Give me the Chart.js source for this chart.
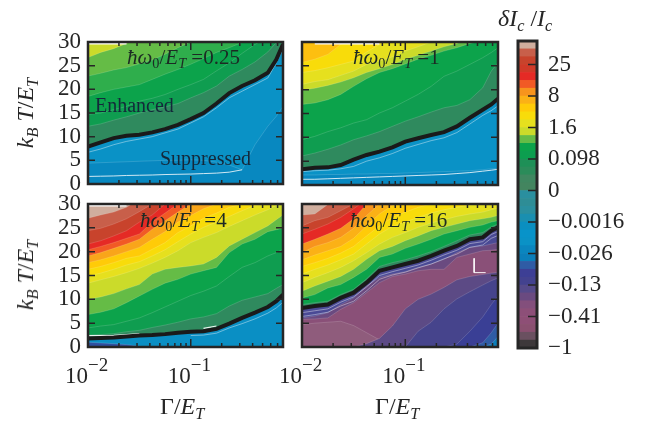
<!DOCTYPE html>
<html>
<head>
<meta charset="utf-8">
<script src="https://cdn.jsdelivr.net/npm/chart.js@4"></script>
<style>
    html, body { margin: 0; padding: 0; background: #fff; width: 645px; height: 424px; overflow: hidden; }
    canvas { position: absolute; }
    .txt { position: absolute; font-family: "Liberation Serif", serif; color: #262626; white-space: nowrap; line-height: 1; }
    .txt i { font-style: italic; }
    .txt sub { font-size: 68%; vertical-align: -0.28em; line-height: 0; }
    .panelLabel { font-size: 21px; color: #1c2a24; }
    .note { font-size: 20px; color: #14283a; }
    .axisTitle { font-size: 24px; }
    .rot { transform: translate(-50%, -50%) rotate(-90deg); }
</style>
</head>
<body>
<canvas id="panel1" style="left:40px;top:28px" width="251" height="206"></canvas>
<canvas id="panel2" style="left:254px;top:28px" width="252" height="207"></canvas>
<canvas id="panel3" style="left:40px;top:190px" width="251" height="207"></canvas>
<canvas id="panel4" style="left:254px;top:190px" width="252" height="207"></canvas>
<canvas id="colorbar" style="left:510px;top:25px" width="135" height="345"></canvas>

<div class="txt panelLabel" style="left:127px;top:47px"><i>ħω</i><sub>0</sub>/<i>E<sub>T</sub></i> =0.25</div>
<div class="txt panelLabel" style="left:353px;top:47px"><i>ħω</i><sub>0</sub>/<i>E<sub>T</sub></i> =1</div>
<div class="txt panelLabel" style="left:140px;top:210px"><i>ħω</i><sub>0</sub>/<i>E<sub>T</sub></i> =4</div>
<div class="txt panelLabel" style="left:350px;top:210px"><i>ħω</i><sub>0</sub>/<i>E<sub>T</sub></i> =16</div>
<div class="txt note" style="left:95px;top:95px">Enhanced</div>
<div class="txt note" style="left:160px;top:148px">Suppressed</div>
<div class="txt axisTitle rot" style="left:25px;top:113px"><i>k<sub>B</sub> T</i>/<i>E<sub>T</sub></i></div>
<div class="txt axisTitle rot" style="left:25px;top:275px"><i>k<sub>B</sub> T</i>/<i>E<sub>T</sub></i></div>
<div class="txt axisTitle" style="left:160px;top:394px">Γ/<i>E<sub>T</sub></i></div>
<div class="txt axisTitle" style="left:375px;top:394px">Γ/<i>E<sub>T</sub></i></div>
<div class="txt axisTitle" style="left:498px;top:6px"><i>δI<sub>c</sub></i> /<i>I<sub>c</sub></i></div>

<script>
// shared x positions of all contour curves (Gamma/E_T)
const gamma = [0.01, 0.0133, 0.0178, 0.0237, 0.0316, 0.0422, 0.0562, 0.075, 0.1, 0.133, 0.178, 0.237, 0.316, 0.422, 0.562, 0.68, 0.79];
const gammaTicks = [0.01, 0.02, 0.03, 0.04, 0.05, 0.06, 0.07, 0.08, 0.09, 0.1, 0.2, 0.3, 0.4, 0.5, 0.6, 0.7];
const gammaExponents = { 0.01: '\u22122', 0.1: '\u22121' };
const temperatureTicks = [0, 5, 10, 15, 20, 25, 30];
const ceiling = [40, 40, 40, 40, 40, 40, 40, 40, 40, 40, 40, 40, 40, 40, 40, 40, 40];

// panel 1, hw0/ET = 0.25
const p1Lime = [26.7, 27.8, 28.6, 29.7, 31, 32, 33, 34, 35, 36, 37, 38, 39, 40, 41, 42, 43];
const p1Light = [22.8, 23.4, 24.1, 24.6, 25.4, 26.2, 27.4, 28.8, 30, 31, 32, 33, 34, 35, 36, 37, 38];
const p1Mid = [18.5, 19.3, 20, 20.5, 21, 22.1, 23.2, 24.2, 25.3, 26.5, 27.8, 28.8, 29.9, 31, 32, 33, 34];
const p1Green = [14.7, 15, 15.7, 16.4, 17.5, 18.1, 18.9, 20, 21, 22.1, 23.9, 25.6, 27.6, 29.5, 30.9, 32, 32.7];
const p1Dark = [12.2, 12.7, 13.5, 14.2, 15, 15.7, 16.3, 17, 18.2, 19.3, 20.7, 22.8, 24.2, 25.8, 27.9, 29.9, 30.9];
const p1Black = [7.9, 8.8, 9.7, 10.2, 10.4, 10.9, 11.6, 12.5, 13.7, 15, 17, 19.2, 20.7, 21.9, 23.5, 26.3, 29.5];
const p1Low = [4.4, 4.5, 4.6, 4.7, 4.8, 4.9, 5, 5, 5.1, 5, 4.6, 4, 3, 8.3, 12.2, 14.3, 16.4];
const p1Fan = [6.7, 7.4, 8.3, 9, 9.5, 10, 10.8, 11.6, 12.9, 14.2, 16.1, 18.2, 19.6, 21, 22.4, 25.6, 28.5];
const p1Base = [1.6, 1.65, 1.7, 1.8, 1.85, 1.9, 2, 2.05, 2.1, 2.2, 2.3, 2.5, 3, null, null, null, null];
const p1Gap = [29.7, 29.7, 29.7, 29.7, null, null, null, null, null, null, null, null, null, null, null, null, null];

// panel 2, hw0/ET = 1
const p2Orange = [25.7, 26.4, 27.4, 29.5, 31, 32, 33, 34, 35, 36, 37, 38, 39, 40, 41, 42, 43];
const p2Yellow = [23.6, 24, 24.6, 25.3, 26, 27.9, 29.5, 31, 32, 33, 34, 35, 36, 37, 38, 39, 40];
const p2Lemon = [21.1, 21.7, 22.1, 23, 23.9, 25.3, 26, 26.9, 28.1, 29, 30, 31, 32, 33, 34, 35, 36];
const p2Lime = [19.9, 20.3, 20.9, 21.6, 22.5, 23.6, 24.4, 25.3, 26.4, 27.2, 28.1, 29, 29.7, 30.6, 31.5, 32, 33];
const p2Light = [16.9, 17.2, 17.9, 19, 20.7, 22.3, 23.6, 24.4, 25.4, 26.4, 27.2, 28.1, 28.8, 29.7, 30.2, 31.5, 32];
const p2Green = [9.5, 10.2, 11.2, 12, 13, 13.7, 15.1, 16.2, 17.6, 19, 20.7, 22.8, 23.9, 25.3, 26.7, 27.8, 28.8];
const p2Dark = [6.1, 6.7, 7.5, 8.4, 9.5, 10.3, 11.2, 12.3, 13.4, 14.3, 15.3, 16.2, 16.7, 17.9, 20.4, 23.9, 25.7];
const p2Black = [3.3, 3.6, 3.7, 4.2, 5.3, 6.3, 7, 7.9, 9.1, 9.8, 10.5, 11.1, 12.3, 14.1, 15.8, 16.9, 18.1];
const p2Low = [2.1, 2.1, 2.2, 2.2, 2.3, 2.3, 2.4, 2.4, 2.5, 2.6, 2.7, 2.8, 2.9, 3, 3.2, 3.4, 3.5];
const p2Fan = [2.8, 3, 3.1, 3.4, 3.9, 5, 5.7, 6.6, 7.7, 8.5, 9.3, 9.9, 11, 12.8, 14.6, 15.6, 16.6];
const p2Base = [1.2, 1.2, 1.3, 1.4, 1.5, 1.6, 1.7, 1.8, 1.9, 2, 2.1, 2.2, 2.4, 2.6, 2.9, 3.1, 3.3];
const p2Gap = [null, 29.7, 29.7, 29.7, 29.7, 29.7, 29.7, null, null, null, null, null, null, null, null, null, null];

// panel 3, hw0/ET = 4
const p3Pink = [27, 27.7, 28.3, 29.3, 31, 32, 33, 34, 35, 36, 37, 38, 39, 40, 41, 42, 43];
const p3Brick = [24.4, 24.9, 25.8, 26.9, 28.4, 30, 31, 32, 33, 34, 35, 36, 37, 38, 39, 40, 41];
const p3Rust = [21.6, 22.3, 23.3, 24.4, 26.2, 27.7, 30, 31, 32, 33, 34, 35, 36, 37, 38, 39, 40];
const p3Red = [20.4, 21.1, 21.9, 22.8, 23.7, 26.2, 28.1, 30, 31, 32, 33, 34, 35, 36, 37, 38, 39];
const p3Orange = [19.1, 19.8, 20.7, 21.6, 22.6, 24.7, 26.5, 28.3, 30, 31, 32, 33, 34, 35, 36, 37, 38];
const p3Amber = [17.7, 18.3, 19.1, 20, 20.9, 22.6, 24.2, 26.2, 27.6, 29, 30, 31, 32, 33, 34, 35, 36];
const p3Gold = [16.3, 16.9, 17.7, 18.6, 19.1, 20.5, 21.9, 24, 25.4, 27, 28.1, 29.3, 30, 31, 32, 33, 34];
const p3Yellow = [14.9, 15.5, 16.3, 17.2, 17.9, 19.1, 20.4, 22.1, 23.7, 25.1, 26.2, 27.4, 28.6, 29.7, 30, 31, 32];
const p3Lemon = [13.4, 14.1, 14.8, 15.6, 16.5, 17.6, 18.8, 20.2, 21.9, 23, 24, 25.3, 26.5, 27.7, 28.8, 29.7, 30];
const p3Lime = [10, 10.5, 11.2, 12.2, 13.1, 15.3, 16.3, 16.7, 17, 17.4, 18.8, 21.2, 22.6, 24, 25.4, 26.7, 27.7];
const p3Light = [6.8, 7.3, 8, 9.3, 10.7, 12.1, 13.4, 14.2, 15.3, 16, 16.7, 19.8, 21.6, 22.6, 24.2, 24.6, 24.9];
const p3Green = [4, 4.4, 4.7, 5.4, 6.1, 7.2, 8.4, 9.6, 10.8, 11.7, 12.8, 14.8, 16.7, 17.7, 19.1, 19.8, 20.5];
const p3Dark = [2.5, 2.6, 2.8, 3.2, 3.5, 4.1, 4.6, 5.2, 5.9, 6.3, 7, 8.6, 9.8, 10.5, 11.2, 12.3, 13.1];
const p3Black = [1.76, 1.9, 2, 2.2, 2.4, 2.5, 2.7, 3, 3.2, 3.3, 3.8, 4.9, 6.1, 7.2, 8.4, 9.6, 11];
const p3Indigo = [1, 0.85, 0.7, 0.5, 0.15, 0, 0, 0, 0, 0, 0, 0, 0, 0, 0, 0, 0];
const p3Fan = [null, null, null, null, null, null, null, null, 2.4, 2.5, 2.9, 4, 4.9, 5.9, 7.1, 8.2, 9.4];
const p3Base = [2.4, 2.4, 2.45, 2.6, 2.8, null, null, null, null, 3.9, 4.4, null, null, null, null, null, null];
const p3Gap = [29.7, 29.7, 29.7, 29.7, null, null, null, null, null, null, null, null, null, null, null, null, null];

// panel 4, hw0/ET = 16
const p4Pink = [27.7, 27.9, 29.9, 31, 32, 33, 34, 35, 36, 37, 38, 39, 40, 41, 42, 43, 44];
const p4Brick = [25.4, 26.5, 27.2, 28.6, 30, 31, 32, 33, 34, 35, 36, 37, 38, 39, 40, 41, 42];
const p4Rust = [23.7, 24.7, 25.8, 27.2, 29, 31, 32, 33, 34, 35, 36, 37, 38, 39, 40, 41, 42];
const p4Red = [21.6, 22.6, 23.7, 24.9, 26.9, 30, 31, 32, 33, 34, 35, 36, 37, 38, 39, 40, 41];
const p4Orange = [19.8, 21.1, 21.9, 23, 24.9, 27.6, 30, 31, 32, 33, 34, 35, 36, 37, 38, 39, 40];
const p4Amber = [18.3, 19.3, 20.2, 21.1, 22.8, 25.4, 27.9, 29.7, 30, 31, 32, 33, 34, 35, 36, 37, 38];
const p4Gold = [16.9, 17.7, 18.6, 19.7, 21.1, 23.3, 25.4, 27.2, 28.3, 29.3, 30, 31, 32, 33, 34, 35, 36];
const p4Yellow = [15.3, 16.3, 17.2, 18.3, 19.5, 21.6, 23.7, 25.3, 26.2, 27.2, 28.1, 28.8, 29.3, 29.8, 30.2, 31, 32];
const p4Lemon = [13.5, 14.6, 15.6, 16.7, 18.1, 19.8, 21.6, 23, 24, 25.1, 26, 26.7, 27.4, 27.9, 28.3, 28.8, 29.1];
const p4Lime = [11.7, 12.8, 13.8, 14.8, 16.3, 18.4, 20.2, 21.1, 22.3, 23.3, 24.4, 25.1, 25.8, 26.5, 26.9, 27.2, 27.6];
const p4Light = [10.3, 11, 12.4, 13.1, 14.6, 16.3, 18.8, 19.5, 20.7, 21.6, 22.6, 23.7, 24.4, 25.1, 25.6, 26.2, 26.5];
const p4Dark = [8.9, 9.3, 9.6, 11, 12.1, 14.3, 16.9, 17.7, 18.3, 19.1, 20, 21.1, 22.3, 23.5, 24, 25.2, 25.8];
const p4Black = [8.2, 8.6, 8.9, 10.3, 11.4, 13.5, 16, 16.7, 17.4, 18.1, 19.1, 20.2, 21.2, 22.6, 23, 24.4, 25.1];
const p4Fade = [6.1, 6.5, 7.2, 8.9, 10.3, 12.8, 14.6, 15.3, 15.8, 16.7, 17.4, 18.4, 19.8, 20.9, 21.2, 21.6, 21.9];
const p4Plum = [5.8, 5.9, 6.1, 7.9, 9.3, 11.4, 13.5, 14.8, 15.3, 16, 16.3, 16.3, 18.8, 19.5, 20.2, 20.3, 20.5];
const p4Pale = [4.7, 5, 5.2, 5.4, 4.5, 3, 1.5, 0, 0, 0, 0, 0, 0, 0, 0, 0, 0];
const p4Mauve = [0, 0, 0, 0, 0, 0.7, 1.8, 4.4, 8, 10, 11.1, 12.5, 14.1, 14.8, 15.2, 15.5, 15.7];
const p4Purple = [0, 0, 0, 0, 0, 0, 0, 0, 0, 3.3, 5.2, 8, 10.1, 11.6, 13, 13.9, 14.5];
const p4Indigo = [0, 0, 0, 0, 0, 0, 0, 0, 0, 0, 0, 0, 0.6, 3.3, 6.3, 8.9, 10.7];
const p4Blue = [0, 0, 0, 0, 0, 0, 0, 0, 0, 0, 0, 0, 0, 0, 0.9, 3, 5];
const p4Cyan = [0, 0, 0, 0, 0, 0, 0, 0, 0, 0, 0, 0, 0, 0, 0, 0.6, 2.2];
const p4Fan1 = [7.2, 7.6, 8, 9.4, 10.5, 12.6, 15, 15.8, 16.5, 17.2, 18.2, 19.3, 20.3, 21.7, 22.1, 23.6, 24.2];
const p4Fan2 = [6.4, 6.8, 7.3, 8.6, 9.6, 11.8, 14.2, 15.1, 15.7, 16.6, 17.4, 18.5, 19.5, 20.9, 21.4, 22.8, 23.4];
const p4MarkX = [0.464, 0.464, 0.6];
const p4MarkY = [18.6, 15.6, 15.6];

// colorbar, one color per band from the bottom up
const barColors = ['#3d383a', '#6a5060', '#8a5070', '#8e4f76', '#8d4f78', '#834f7c', '#6a4a80', '#554a8a', '#43428f', '#3d3f95',
    '#2f5ca5', '#0b7fba', '#0a86bf', '#0a92c6', '#0893c9', '#0a8fc0', '#1a8fb0', '#2a8f9f', '#2e8d96', '#2a8f9f',
    '#43855f', '#3f8760', '#2b8c5a', '#1e9057', '#0c9e4f', '#0ca34b', '#65bc46', '#cbdb2a', '#e6e01e', '#f8dc0a',
    '#ffcb08', '#fbb116', '#f7941d', '#f15a25', '#e52a25', '#d03a28', '#c8432c', '#c85f4a', '#d0ae9e'];
const barTickValues = [0, 4, 8, 12, 16, 20, 24, 28, 32, 36];
const barTickLabels = ['\u22121', '\u22120.41', '\u22120.13', '\u22120.026', '\u22120.0016', '0', '0.098', '1.6', '8', '25'];

const inkColor = '#262626';
const fontFamily = '"Liberation Serif", serif';
const tickFont = { family: fontFamily, size: 23 };

// frame, inward ticks on all four sides, and the 10^n labels (canvas has no superscript)
const framePlugin = {
    id: 'frame',
    afterDatasetsDraw(chart, args, opts) {
        let ctx = chart.ctx;
        let a = chart.chartArea;
        ctx.save();
        ctx.strokeStyle = inkColor;
        ctx.lineWidth = 1.5;
        ctx.beginPath();
        gammaTicks.forEach(v => {
            let px = chart.scales.x.getPixelForValue(v);
            let len = gammaExponents[v] ? 8 : 4;
            ctx.moveTo(px, a.top); ctx.lineTo(px, a.top + len);
            ctx.moveTo(px, a.bottom); ctx.lineTo(px, a.bottom - len);
        });
        temperatureTicks.forEach(v => {
            let py = chart.scales.y.getPixelForValue(v);
            ctx.moveTo(a.left, py); ctx.lineTo(a.left + 7, py);
            ctx.moveTo(a.right, py); ctx.lineTo(a.right - 7, py);
        });
        ctx.stroke();
        ctx.lineWidth = 2.5;
        ctx.strokeRect(a.left, a.top, a.right - a.left, a.bottom - a.top);

        if (opts.showX) {
            ctx.fillStyle = inkColor;
            ctx.textBaseline = 'alphabetic';
            Object.keys(gammaExponents).forEach(v => {
                let px = chart.scales.x.getPixelForValue(Number(v));
                ctx.font = '23px ' + fontFamily;
                ctx.textAlign = 'right';
                ctx.fillText('10', px, a.bottom + 36);
                ctx.font = '19px ' + fontFamily;
                ctx.textAlign = 'left';
                ctx.fillText(gammaExponents[v], px, a.bottom + 24);
            });
        }
        ctx.restore();
    }
};

const barFramePlugin = {
    id: 'barFrame',
    afterDatasetsDraw(chart) {
        let ctx = chart.ctx;
        let a = chart.chartArea;
        ctx.save();
        ctx.strokeStyle = inkColor;
        ctx.lineWidth = 1.5;
        ctx.beginPath();
        barTickValues.forEach(v => {
            let py = chart.scales.y.getPixelForValue(v);
            ctx.moveTo(a.right, py); ctx.lineTo(a.right - 9, py);
        });
        ctx.stroke();
        ctx.lineWidth = 3;
        ctx.strokeRect(a.left, a.top, a.right - a.left, a.bottom - a.top);
        ctx.restore();
    }
};

function bandDataset(values, color) {
    return {
        data: values,
        fill: 'start',
        backgroundColor: color,
        borderColor: 'rgba(255,255,255,0.25)',
        borderWidth: 0.6,
        pointRadius: 0,
        tension: 0
    };
}

function lineDataset(values, color, width) {
    return {
        data: values,
        fill: false,
        borderColor: color,
        borderWidth: width,
        pointRadius: 0,
        tension: 0,
        spanGaps: false
    };
}

function buildPanel(id, bands, lines, showY, showX) {
    let datasets = lines.slice();
    // the first dataset is drawn last, so the lowest band goes first
    bands.slice().reverse().forEach(b => datasets.push(bandDataset(b[0], b[1])));

    new Chart(document.getElementById(id), {
        type: 'line',
        data: { labels: gamma, datasets: datasets },
        options: {
            responsive: false,
            animation: false,
            layout: { padding: { top: 14, right: 8 } },
            plugins: { legend: { display: false }, tooltip: { enabled: false }, frame: { showX: showX } },
            scales: {
                x: {
                    type: 'logarithmic',
                    min: 0.01,
                    max: 0.79,
                    grid: { display: false, drawTicks: false },
                    border: { display: false },
                    afterBuildTicks: axis => { axis.ticks = gammaTicks.map(v => ({ value: v })); },
                    afterFit: axis => {
                        axis.height = 50;
                        axis.paddingLeft = 0;
                        axis.paddingRight = 0;
                    },
                    ticks: { display: false }
                },
                y: {
                    min: 0,
                    max: 30,
                    grid: { display: false, drawTicks: false },
                    border: { display: false },
                    afterBuildTicks: axis => { axis.ticks = temperatureTicks.map(v => ({ value: v })); },
                    afterFit: axis => {
                        axis.width = 48;
                        axis.paddingTop = 0;
                        axis.paddingBottom = 0;
                    },
                    ticks: {
                        autoSkip: false,
                        padding: 7,
                        color: showY ? inkColor : 'rgba(0,0,0,0)',
                        font: tickFont
                    }
                }
            }
        },
        plugins: [framePlugin]
    });
}

function withX(xs, ys) {
    return xs.map((x, i) => ({ x: x, y: ys[i] }));
}

document.addEventListener('DOMContentLoaded', () => {
    let white = 'rgba(255,255,255,0.5)';
    let black = '#1a1a1a';
    let gapWhite = '#ffffff';

    buildPanel('panel1', [
        [ceiling, '#cbdb2a'], [p1Lime, '#65bc46'], [p1Light, '#2fae4c'], [p1Mid, '#0ca34b'],
        [p1Green, '#0f9d50'], [p1Dark, '#2f8a5e'], [p1Black, '#0a92c6'], [p1Low, '#0888c0']
    ], [
        lineDataset(p1Black, black, 4),
        lineDataset(p1Fan, white, 0.8),
        lineDataset(p1Base, 'rgba(255,255,255,0.8)', 1),
        lineDataset(p1Gap, gapWhite, 2)
    ], true, false);

    buildPanel('panel2', [
        [ceiling, '#fdbf10'], [p2Orange, '#f8dc0a'], [p2Yellow, '#e6e01e'], [p2Lemon, '#cbdb2a'],
        [p2Lime, '#65bc46'], [p2Light, '#0ca34b'], [p2Green, '#0f9d50'], [p2Dark, '#2f8a5e'],
        [p2Black, '#0a92c6'], [p2Low, '#0888c0']
    ], [
        lineDataset(p2Black, black, 4),
        lineDataset(p2Fan, white, 0.8),
        lineDataset(p2Base, 'rgba(255,255,255,0.8)', 1),
        lineDataset(p2Gap, gapWhite, 2)
    ], false, false);

    buildPanel('panel3', [
        [ceiling, '#d0ae9e'], [p3Pink, '#c85f4a'], [p3Brick, '#c8432c'], [p3Rust, '#e52a25'],
        [p3Red, '#f15a25'], [p3Orange, '#f9a51a'], [p3Amber, '#ffcb08'], [p3Gold, '#f8dc0a'],
        [p3Yellow, '#e6e01e'], [p3Lemon, '#cbdb2a'], [p3Lime, '#65bc46'], [p3Light, '#0ca34b'],
        [p3Green, '#0f9d50'], [p3Dark, '#2f8a5e'], [p3Black, '#0a8fc4'], [p3Indigo, '#2f4fa0']
    ], [
        lineDataset(p3Black, black, 4),
        lineDataset(p3Fan, white, 0.8),
        lineDataset(p3Base, 'rgba(255,255,255,0.9)', 1.2),
        lineDataset(p3Gap, gapWhite, 2)
    ], true, true);

    buildPanel('panel4', [
        [ceiling, '#d0ae9e'], [p4Pink, '#c85f4a'], [p4Brick, '#c8432c'], [p4Rust, '#e52a25'],
        [p4Red, '#f7941d'], [p4Orange, '#fbb116'], [p4Amber, '#ffcb08'], [p4Gold, '#f8dc0a'],
        [p4Yellow, '#e6e01e'], [p4Lemon, '#cbdb2a'], [p4Lime, '#65bc46'], [p4Light, '#0ca34b'],
        [p4Dark, '#2f8a5e'], [p4Black, '#4a4a95'], [p4Fade, '#6a4a80'], [p4Plum, '#8a5078'],
        [p4Pale, '#8f5c7c'], [p4Mauve, '#5c4a85'], [p4Purple, '#46448c'], [p4Indigo, '#3a3f95'],
        [p4Blue, '#2f5ca5'], [p4Cyan, '#0b7fba']
    ], [
        lineDataset(withX(p4MarkX, p4MarkY), 'rgba(255,255,255,0.95)', 1),
        lineDataset(p4Black, black, 4),
        lineDataset(p4Fan1, white, 0.8),
        lineDataset(p4Fan2, white, 0.8)
    ], false, true);

    new Chart(document.getElementById('colorbar'), {
        type: 'bar',
        data: {
            labels: ['band'],
            datasets: barColors.map((color, i) => ({
                data: [[i, i + 1]],
                backgroundColor: color,
                grouped: false,
                barPercentage: 1,
                categoryPercentage: 1
            }))
        },
        options: {
            responsive: false,
            animation: false,
            layout: { padding: { top: 16, left: 8, bottom: 22 } },
            plugins: { legend: { display: false }, tooltip: { enabled: false } },
            scales: {
                x: { display: false },
                y: {
                    position: 'right',
                    min: 0,
                    max: 39,
                    grid: { display: false, drawTicks: false },
                    border: { display: false },
                    afterBuildTicks: axis => { axis.ticks = barTickValues.map(v => ({ value: v })); },
                    afterFit: axis => {
                        axis.width = 108;
                        axis.paddingTop = 0;
                        axis.paddingBottom = 0;
                    },
                    ticks: {
                        autoSkip: false,
                        padding: 11,
                        color: inkColor,
                        font: tickFont,
                        callback: (v) => barTickLabels[barTickValues.indexOf(v)]
                    }
                }
            }
        },
        plugins: [barFramePlugin]
    });
});
</script>
</body>
</html>
